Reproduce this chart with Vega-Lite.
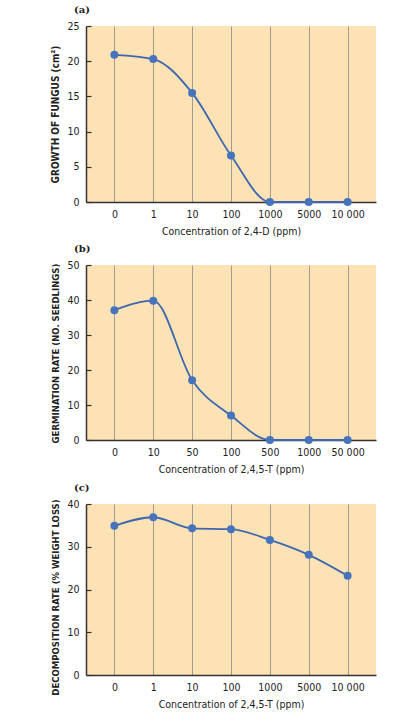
{
  "$schema": "https://vega.github.io/schema/vega-lite/v6.json",
  "background": "white",
  "padding": {"left": 50, "top": 5, "right": 5, "bottom": 5},
  "spacing": 7,
  "config": {
    "view": {"fill": "#FDE2B6", "stroke": null},
    "font": "DejaVu Sans Condensed",
    "title": {"anchor": "start", "frame": "group", "font": "DejaVu Serif", "fontWeight": "bold", "fontSize": 10, "color": "#222222", "offset": 6, "dx": -12},
    "axis": {
      "labelFont": "DejaVu Sans Condensed", "labelFontSize": 10.5, "labelColor": "#222222",
      "titleFont": "DejaVu Sans Condensed", "titleColor": "#222222",
      "domainColor": "#333333", "domainWidth": 1.5, "tickColor": "#333333"
    },
    "axisX": {"labelAngle": 0, "labelPadding": 7, "titleFontSize": 10.5, "titleFontWeight": "normal", "titlePadding": 7, "grid": true, "gridColor": "#A09A90", "gridWidth": 1, "ticks": false},
    "axisY": {"grid": false, "tickSize": -5, "tickWidth": 1.2, "labelPadding": 12, "titleFontSize": 9.5, "titleFontWeight": "bold", "titlePadding": 6}
  },
  "vconcat": [
    {
      "title": "(a)",
      "width": 290, "height": 176,
      "data": {"values": [
        {"conc": "0", "value": 20.9},
        {"conc": "1", "value": 20.3},
        {"conc": "10", "value": 15.5},
        {"conc": "100", "value": 6.6},
        {"conc": "1000", "value": 0},
        {"conc": "5000", "value": 0},
        {"conc": "10 000", "value": 0}
      ]},
      "encoding": {
        "x": {"field": "conc", "type": "ordinal", "sort": null, "scale": {"type": "point", "padding": 0.73}, "axis": {"title": "Concentration of 2,4-D (ppm)"}},
        "y": {"field": "value", "type": "quantitative", "scale": {"domain": [0, 25], "nice": false}, "axis": {"title": "GROWTH OF FUNGUS (cm²)", "values": [0, 5, 10, 15, 20, 25], "titleFontSize": 10}}
      },
      "layer": [
        {"mark": {"type": "line", "interpolate": "monotone", "color": "#3D67AE", "strokeWidth": 1.8}},
        {"mark": {"type": "point", "filled": true, "size": 64, "color": "#4673BC", "opacity": 1}}
      ]
    },
    {
      "title": "(b)",
      "width": 290, "height": 175,
      "data": {"values": [
        {"conc": "0", "value": 37.1},
        {"conc": "10", "value": 39.8},
        {"conc": "50", "value": 17.1},
        {"conc": "100", "value": 7.0},
        {"conc": "500", "value": 0},
        {"conc": "1000", "value": 0},
        {"conc": "50 000", "value": 0}
      ]},
      "encoding": {
        "x": {"field": "conc", "type": "ordinal", "sort": null, "scale": {"type": "point", "padding": 0.73}, "axis": {"title": "Concentration of 2,4,5-T (ppm)"}},
        "y": {"field": "value", "type": "quantitative", "scale": {"domain": [0, 50], "nice": false}, "axis": {"title": "GERMINATION RATE (NO. SEEDLINGS)", "values": [0, 10, 20, 30, 40, 50], "titleY": 88}}
      },
      "layer": [
        {"mark": {"type": "line", "interpolate": "monotone", "color": "#3D67AE", "strokeWidth": 1.8}},
        {"mark": {"type": "point", "filled": true, "size": 64, "color": "#4673BC", "opacity": 1}}
      ]
    },
    {
      "title": "(c)",
      "width": 290, "height": 171,
      "data": {"values": [
        {"conc": "0", "value": 34.9},
        {"conc": "1", "value": 36.9},
        {"conc": "10", "value": 34.3},
        {"conc": "100", "value": 34.1},
        {"conc": "1000", "value": 31.6},
        {"conc": "5000", "value": 28.1},
        {"conc": "10 000", "value": 23.2}
      ]},
      "encoding": {
        "x": {"field": "conc", "type": "ordinal", "sort": null, "scale": {"type": "point", "padding": 0.73}, "axis": {"title": "Concentration of 2,4,5-T (ppm)"}},
        "y": {"field": "value", "type": "quantitative", "scale": {"domain": [0, 40], "nice": false}, "axis": {"title": "DECOMPOSITION RATE (% WEIGHT LOSS)", "values": [0, 10, 20, 30, 40], "titleY": 93}}
      },
      "layer": [
        {"mark": {"type": "line", "interpolate": "monotone", "color": "#3D67AE", "strokeWidth": 1.8}},
        {"mark": {"type": "point", "filled": true, "size": 64, "color": "#4673BC", "opacity": 1}}
      ]
    }
  ]
}
